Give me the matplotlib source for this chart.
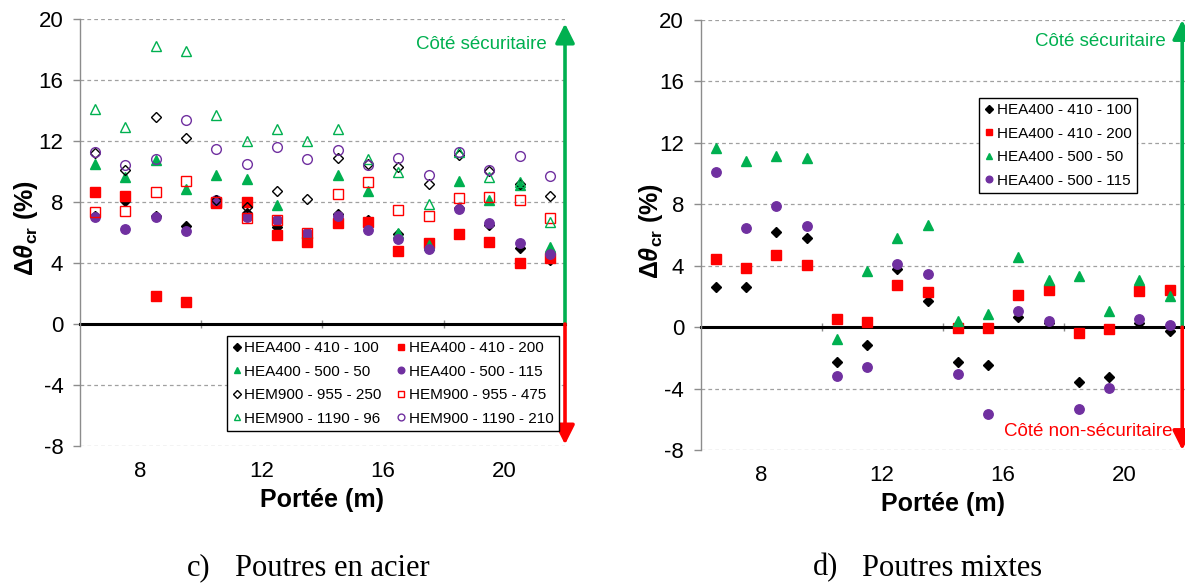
import matplotlib
matplotlib.use('Agg')
import matplotlib.pyplot as plt

plt.rcParams['font.family'] = ['Liberation Sans', 'DejaVu Sans']
plt.rcParams['axes.unicode_minus'] = False
plt.rcParams['mathtext.fontset'] = 'custom'
plt.rcParams['mathtext.rm'] = 'Liberation Sans'
plt.rcParams['mathtext.bf'] = 'Liberation Sans:bold'
plt.rcParams['mathtext.it'] = 'Liberation Sans:italic'
plt.rcParams['mathtext.bfit'] = 'Liberation Sans:italic:bold'

# span of the beams (m)
span = [6.5, 7.5, 8.5, 9.5, 10.5, 11.5, 12.5, 13.5,
        14.5, 15.5, 16.5, 17.5, 18.5, 19.5, 20.5, 21.5]

# c) steel beams
acier_hea_410_100 = [7.1, 8.05, 7.1, 6.4, 8.1, 7.27, 6.35, 5.7, 7.2, 6.85, 5.9, 5.1, 7.6, 6.46, 5.0, 4.17]
acier_hea_410_200 = [8.64, 8.38, 1.84, 1.45, 7.95, 8.0, 5.85, 5.37, 6.6, 6.7, 4.8, 5.3, 5.9, 5.4, 4.0, 4.35]
acier_hea_500_50 = [10.5, 9.66, 10.75, 8.86, 9.77, 9.49, 7.8, 6.0, 9.77, 8.7, 6.0, 5.2, 9.36, 8.1, 9.1, 5.05]
acier_hea_500_115 = [7.0, 6.2, 7.0, 6.13, 8.1, 7.0, 6.83, 6.0, 7.1, 6.18, 5.6, 4.9, 7.55, 6.63, 5.3, 4.6]
acier_hem_955_250 = [11.2, 10.1, 13.6, 12.2, 8.16, 7.66, 8.75, 8.2, 10.9, 10.5, 10.3, 9.2, 11.1, 10.05, 9.2, 8.4]
acier_hem_955_475 = [7.33, 7.4, 8.68, 9.36, 7.98, 6.94, 6.83, 6.0, 8.53, 9.29, 7.48, 7.05, 8.27, 8.35, 8.1, 6.96]
acier_hem_1190_96 = [14.08, 12.9, 18.2, 17.9, 13.7, 12.0, 12.8, 12.0, 12.8, 10.8, 9.95, 7.9, 11.25, 9.65, 9.3, 6.7]
acier_hem_1190_210 = [11.3, 10.45, 10.8, 13.4, 11.5, 10.5, 11.6, 10.8, 11.4, 10.4, 10.9, 9.8, 11.3, 10.1, 11.0, 9.7]

# d) composite beams
mixte_hea_410_100 = [2.64, 2.6, 6.2, 5.79, -2.26, -1.17, 3.77, 1.71, -2.26, -2.45, 0.69, 0.26, -3.56, -3.25, 0.26, -0.22]
mixte_hea_410_200 = [4.42, 3.86, 4.68, 4.05, 0.54, 0.32, 2.77, 2.32, -0.05, -0.05, 2.08, 2.45, -0.35, -0.13, 2.36, 2.4]
mixte_hea_500_50 = [11.65, 10.8, 11.17, 11.0, -0.78, 3.68, 5.83, 6.66, 0.37, 0.87, 4.55, 3.08, 3.34, 1.06, 3.08, 2.06]
mixte_hea_500_115 = [10.08, 6.44, 7.91, 6.59, -3.2, -2.6, 4.12, 3.47, -3.06, -5.66, 1.06, 0.37, -5.3, -3.97, 0.54, 0.15]

labels_c = ['HEA400 - 410 - 100', 'HEA400 - 410 - 200', 'HEA400 - 500 - 50', 'HEA400 - 500 - 115',
            'HEM900 - 955 - 250', 'HEM900 - 955 - 475', 'HEM900 - 1190 - 96', 'HEM900 - 1190 - 210']
series_c = [acier_hea_410_100, acier_hea_410_200, acier_hea_500_50, acier_hea_500_115,
            acier_hem_955_250, acier_hem_955_475, acier_hem_1190_96, acier_hem_1190_210]
labels_d = labels_c[:4]
series_d = [mixte_hea_410_100, mixte_hea_410_200, mixte_hea_500_50, mixte_hea_500_115]

GREEN = '#00B050'
RED = '#FF0000'
PURPLE = '#7030A0'
# marker, colour, size, filled
styles = [('D', 'black', 5.4, True), ('s', RED, 6.5, True), ('^', GREEN, 6.5, True), ('o', PURPLE, 6.8, True),
          ('D', 'black', 5.4, False), ('s', RED, 6.5, False), ('^', GREEN, 6.8, False), ('o', PURPLE, 7.0, False)]


def draw_series(ax, series, labels):
    handles = []
    for vals, lab, (mk, col, ms, filled) in zip(series, labels, styles):
        h, = ax.plot(span, vals, linestyle='none', marker=mk, markersize=ms,
                     markeredgecolor=col, markerfacecolor=col if filled else 'none',
                     markeredgewidth=1.0, label=lab)
        handles.append(h)
    return handles


def style_axes(ax, label_x):
    ax.set_xlim(6, 22)
    ax.set_ylim(-8, 20)
    ax.set_yticks(range(-8, 21, 4))
    ax.yaxis.grid(True, linestyle=(0, (3, 2.5)), color='#A0A0A0', linewidth=0.9)
    ax.set_axisbelow(True)
    for side in ['top', 'right']:
        ax.spines[side].set_visible(False)
    ax.spines['left'].set_color('#8C8C8C')
    ax.spines['left'].set_linewidth(1.0)
    ax.spines['bottom'].set_position(('data', 0))
    ax.spines['bottom'].set_color('black')
    ax.spines['bottom'].set_linewidth(2.2)
    ax.spines['bottom'].set_zorder(1.5)
    ax.set_xticks([10, 14, 18])
    ax.set_xticklabels([])
    ax.tick_params(axis='x', direction='inout', length=6, color='#8C8C8C', width=1)
    ax.tick_params(axis='y', direction='out', length=5, color='#8C8C8C', width=1,
                   labelsize=16, pad=7)
    sec = ax.secondary_xaxis(0)
    sec.set_xticks([8, 12, 16, 20])
    sec.spines['bottom'].set_visible(False)
    sec.tick_params(length=0, labelsize=16, pad=11)
    sec.set_xlabel('Portée (m)', fontsize=18, fontweight='bold', labelpad=4)
    ax.set_ylabel(r'$\mathbf{\Delta}\mathbfit{\theta}_{\mathbf{cr}}$ (%)', fontsize=18,
                  fontweight='bold')
    ax.yaxis.set_label_coords(label_x, 0.51)


def arrows(ax, x, top, bottom, txt_top, txt_bottom=None):
    arrowstyle = '-|>,head_length=0.4,head_width=0.2'
    ax.annotate('', xy=(x, top), xytext=(x, 0), annotation_clip=False,
                arrowprops=dict(arrowstyle=arrowstyle, color=GREEN, lw=2.6,
                                mutation_scale=29, shrinkA=0, shrinkB=0))
    ax.annotate('', xy=(x, bottom), xytext=(x, 0), annotation_clip=False,
                arrowprops=dict(arrowstyle=arrowstyle, color=RED, lw=2.6,
                                mutation_scale=29, shrinkA=0, shrinkB=0))
    ax.text(txt_top[0], txt_top[1], 'Côté sécuritaire', color=GREEN, fontsize=13.5,
            ha='right', va='center')
    if txt_bottom is not None:
        ax.text(txt_bottom[0], txt_bottom[1], 'Côté non-sécuritaire', color=RED,
                fontsize=13.5, ha='right', va='center')


fig = plt.figure(figsize=(11.85, 5.83), dpi=100)
ax1 = fig.add_axes([0.0675, 0.235, 0.4093, 0.7324])
ax2 = fig.add_axes([0.5913, 0.2281, 0.4084, 0.7376])

# c) Poutres en acier
style_axes(ax1, -0.083)
h1 = draw_series(ax1, series_c, labels_c)
order = [0, 2, 4, 6, 1, 3, 5, 7]
leg1 = ax1.legend([h1[i] for i in order], [labels_c[i] for i in order], ncol=2,
                  loc='lower right', bbox_to_anchor=(0.988, 0.035), borderaxespad=0,
                  fontsize=11, frameon=True, fancybox=False, edgecolor='black',
                  framealpha=1, handlelength=0.6, handletextpad=0.2, columnspacing=1.0,
                  labelspacing=0.62, markerscale=0.7, borderpad=0.35)
leg1.get_frame().set_linewidth(1.0)
arrows(ax1, 22, 19.7, -7.9, (21.41, 18.3))

# d) Poutres mixtes
style_axes(ax2, -0.074)
h2 = draw_series(ax2, series_d, labels_d)
leg2 = ax2.legend(h2, labels_d, loc='upper left', bbox_to_anchor=(0.575, 0.819),
                  borderaxespad=0, fontsize=11, frameon=True, fancybox=False,
                  edgecolor='black', framealpha=1, handlelength=0.6, handletextpad=0.2,
                  labelspacing=0.62, markerscale=0.7, borderpad=0.35)
leg2.get_frame().set_linewidth(1.0)
arrows(ax2, 21.92, 20.0, -8.0, (21.36, 18.6), (21.6, -6.8))

# captions
cap = dict(fontsize=22, family=['Liberation Serif', 'DejaVu Serif'], va='center', ha='left')
fig.text(187 / 1185, 1 - 568 / 583, 'c)', **cap)
fig.text(235 / 1185, 1 - 568 / 583, 'Poutres en acier', **cap)
fig.text(813 / 1185, 1 - 568 / 583, 'd)', **cap)
fig.text(862 / 1185, 1 - 568 / 583, 'Poutres mixtes', **cap)

fig.savefig('out.png', dpi=100)
